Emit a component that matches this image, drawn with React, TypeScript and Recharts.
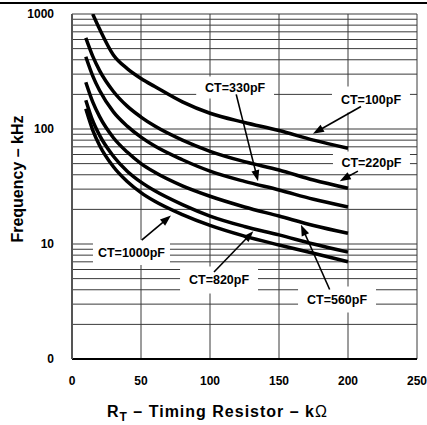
import React from 'react';
import { LineChart, Line, XAxis, YAxis, CartesianGrid, ReferenceArea, ReferenceLine } from 'recharts';

const FONT = '"Liberation Sans", Arial, Helvetica, sans-serif';

// Timing resistor values (kOhm)
const rT = [10, 15, 20, 30, 40, 50, 60, 80, 100, 125, 150, 175, 200];
// Oscillator frequency (kHz) for each timing capacitor
const ct100 = [null, 1000, 740, 440, 335, 275, 234, 172, 137, 114, 97, 80, 68];
const ct220 = [620, 430, 322, 212, 158, 127, 106, 80, 64, 52, 44, 36, 30.5];
const ct330 = [425, 290, 216, 141, 106, 85, 71, 54, 43, 35, 29.5, 24.5, 21];
const ct560 = [255, 172, 128, 84, 63, 50, 42, 32, 26, 21, 17.5, 14.5, 12.4];
const ct820 = [178, 118, 88, 58, 43, 34.5, 29, 22, 17.5, 14.2, 12, 10, 8.5];
const ct1000 = [150, 98, 72, 47, 35, 28, 23.5, 18, 14.5, 11.7, 9.8, 8.3, 7.0];

const seriesNames = ['ct100', 'ct220', 'ct330', 'ct560', 'ct820', 'ct1000'];
const seriesValues = [ct100, ct220, ct330, ct560, ct820, ct1000];

const xTicks = [0, 50, 100, 150, 200, 250];
const yTicks = [
  1, 2, 3, 4, 5, 6, 7, 8, 9,
  10, 20, 30, 40, 50, 60, 70, 80, 90,
  100, 200, 300, 400, 500, 600, 700, 800, 900,
  1000,
];
const yTickLabels: Record<number, string> = { 1: '0', 10: '10', 100: '100', 1000: '1000' };

const data = rT.map((r, i) => {
  const row: Record<string, number | null> = { r };
  seriesNames.forEach((name, k) => {
    row[name] = seriesValues[k][i];
  });
  return row;
});

// Annotation label boxes (data units)
const labelBoxes = [
  { text: 'CT=330pF', x1: 90, x2: 146.4, y1: 184, y2: 286 },
  { text: 'CT=100pF', x1: 188.4, x2: 244.9, y1: 139, y2: 234 },
  { text: 'CT=220pF', x1: 189.1, x2: 244.9, y1: 41, y2: 63.7 },
  { text: 'CT=1000pF', x1: 15.2, x2: 71, y1: 6.57, y2: 10.9 },
  { text: 'CT=820pF', x1: 78.3, x2: 134.8, y1: 3.71, y2: 6.37 },
  { text: 'CT=560pF', x1: 163.8, x2: 220.3, y1: 2.54, y2: 4.27 },
];

// Arrows: from label to curve (data units)
const arrows = [
  { from: { x: 119, y: 200 }, to: { x: 134.8, y: 35.2 } },
  { from: { x: 209.4, y: 157 }, to: { x: 174.6, y: 90.9 } },
  { from: { x: 207.2, y: 43 }, to: { x: 194, y: 35.2 } },
  { from: { x: 50.5, y: 10.8 }, to: { x: 71.7, y: 17.7 } },
  { from: { x: 102.9, y: 5.71 }, to: { x: 131.4, y: 12.9 } },
  { from: { x: 186.7, y: 4.02 }, to: { x: 165.9, y: 14.7 } },
];

const ArrowShape = (props: any) => {
  const { x1, y1, x2, y2 } = props;
  const dx = x2 - x1;
  const dy = y2 - y1;
  const len = Math.sqrt(dx * dx + dy * dy) || 1;
  const ux = dx / len;
  const uy = dy / len;
  const hl = 11;
  const hw = 4;
  const bx = x2 - ux * hl;
  const by = y2 - uy * hl;
  const p1 = `${x2},${y2}`;
  const p2 = `${bx - uy * hw},${by + ux * hw}`;
  const p3 = `${bx + uy * hw},${by - ux * hw}`;
  return (
    <g>
      <line x1={x1} y1={y1} x2={bx + ux * 2} y2={by + uy * 2} stroke="#000" strokeWidth={1.6} />
      <polygon points={`${p1} ${p2} ${p3}`} fill="#000" />
    </g>
  );
};

const XTitle = (props: any) => {
  const vb = props.viewBox || { x: 72, y: 359, width: 345, height: 30 };
  const cx = vb.x + vb.width / 2 - 27;
  const by = vb.y + 58;
  return (
    <g>
      <line x1={0} y1={3} x2={427} y2={3} stroke="#000" strokeWidth={2} />
      <text x={cx} y={by} textAnchor="middle" fontFamily={FONT} fontWeight={700} fontSize={16} letterSpacing={1} fill="#000">
        <tspan>R</tspan>
        <tspan fontSize={12} dy={4}>T</tspan>
        <tspan dy={-4}> – Timing Resistor – k</tspan>
        <tspan fontWeight={400}>Ω</tspan>
      </text>
    </g>
  );
};

const YTitle = (props: any) => {
  const vb = props.viewBox || { x: 12, y: 14, width: 60, height: 345 };
  const cx = vb.x + 5.5;
  const cy = vb.y + vb.height / 2 - 7.5;
  return (
    <text
      x={cx}
      y={cy}
      transform={`rotate(-90, ${cx}, ${cy})`}
      textAnchor="middle"
      dominantBaseline="central"
      fontFamily={FONT}
      fontWeight={700}
      fontSize={16}
      fill="#000"
    >
      Frequency – kHz
    </text>
  );
};

const tickStyle = { fill: '#000', fontSize: 12, fontWeight: 700, fontFamily: FONT };

export default function App() {
  return (
    <div style={{ position: 'absolute', left: 0, top: 0, width: 427, height: 425, background: '#fff' }}>
      <LineChart width={427} height={425} data={data} margin={{ top: 14, right: 10, left: 12, bottom: 36 }}>
        <CartesianGrid stroke="#3a3a3a" strokeWidth={1} />
        <XAxis
          dataKey="r"
          type="number"
          domain={[0, 250]}
          ticks={xTicks}
          interval={0}
          height={30}
          tickLine={false}
          tickSize={0}
          tickMargin={17}
          axisLine={{ stroke: '#000', strokeWidth: 2 }}
          tick={tickStyle}
          label={<XTitle />}
        />
        <YAxis
          type="number"
          scale="log"
          domain={[1, 1000]}
          allowDataOverflow
          ticks={yTicks}
          interval={0}
          width={60}
          tickLine={false}
          tickSize={0}
          tickMargin={18}
          axisLine={{ stroke: '#555', strokeWidth: 2 }}
          tick={tickStyle}
          tickFormatter={(v: number) => yTickLabels[v] ?? ''}
          label={<YTitle />}
        />
        {labelBoxes.map((b) => (
          <ReferenceArea
            key={b.text}
            x1={b.x1}
            x2={b.x2}
            y1={b.y1}
            y2={b.y2}
            fill="#fff"
            fillOpacity={1}
            stroke="none"
            ifOverflow="visible"
            label={{ value: b.text, position: 'center', fill: '#000', fontSize: 12.5, fontWeight: 700, fontFamily: FONT }}
          />
        ))}
        {seriesNames.map((name) => (
          <Line
            key={name}
            dataKey={name}
            type="monotone"
            stroke="#000"
            strokeWidth={3.5}
            dot={false}
            activeDot={false}
            isAnimationActive={false}
          />
        ))}
        {arrows.map((a, i) => (
          <ReferenceLine key={i} segment={[a.from, a.to]} shape={ArrowShape} ifOverflow="visible" />
        ))}
      </LineChart>
      <svg style={{ position: 'absolute', left: 0, top: 0, zIndex: 10, pointerEvents: 'none' }} width={427} height={8}>
        <line x1={0} y1={3} x2={427} y2={3} stroke="#000" strokeWidth={2} />
      </svg>
    </div>
  );
}
